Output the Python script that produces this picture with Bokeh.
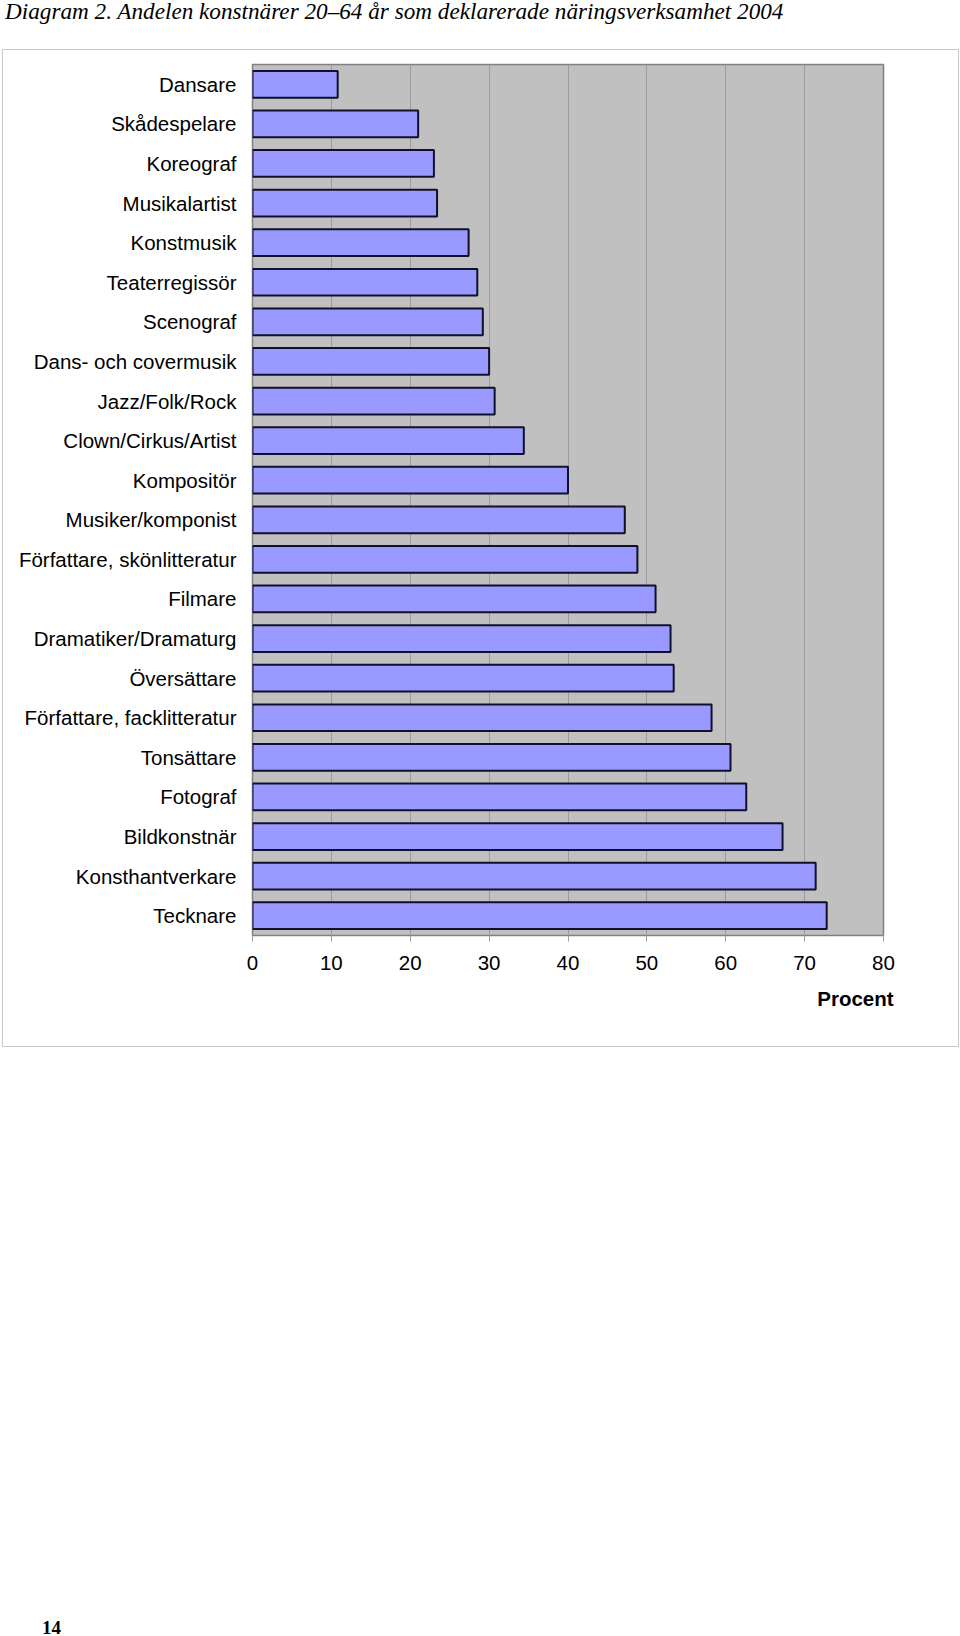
from bokeh.plotting import figure
from bokeh.models import FixedTicker, Range1d, ColumnDataSource, LinearAxis, Div
from bokeh.layouts import column
from bokeh.embed import file_html
from bokeh.resources import INLINE

categories = ["Dansare", "Skådespelare", "Koreograf", "Musikalartist", "Konstmusik",
              "Teaterregissör", "Scenograf", "Dans- och covermusik", "Jazz/Folk/Rock",
              "Clown/Cirkus/Artist", "Kompositör", "Musiker/komponist",
              "Författare, skönlitteratur", "Filmare", "Dramatiker/Dramaturg",
              "Översättare", "Författare, facklitteratur", "Tonsättare", "Fotograf",
              "Bildkonstnär", "Konsthantverkare", "Tecknare"]
values = [10.8, 21.0, 23.0, 23.4, 27.4, 28.5, 29.2, 30.0, 30.7, 34.4, 40.0, 47.2,
          48.8, 51.1, 53.0, 53.4, 58.2, 60.6, 62.6, 67.2, 71.4, 72.8]
x_ticks = [0, 10, 20, 30, 40, 50, 60, 70, 80]
title_text = "Diagram 2. Andelen konstnärer 20–64 år som deklarerade näringsverksamhet 2004"
x_label = "Procent"
page_number = "14"

# figure box on the page: x 2..957, y 49..1045
FW, FH = 955, 996
F_LEFT, F_RIGHT, F_TOP, F_BOTTOM = 249, 878, 14, 883
X0, X1 = 0, 80
n = len(categories)
Y_TOP, Y_BOT = -0.5, n - 0.5


def px_to_x(px):
    return X0 + (px - F_LEFT) * (X1 - X0) / (F_RIGHT - F_LEFT)


pos = list(range(n))
src = ColumnDataSource(dict(y=pos, right=values, cat=categories))

p = figure(width=FW, height=FH, output_backend="svg", toolbar_location=None,
           x_range=Range1d(X0, X1), y_range=Range1d(Y_BOT, Y_TOP),
           min_border_left=F_LEFT, min_border_right=FW - F_RIGHT,
           min_border_top=F_TOP, min_border_bottom=FH - F_BOTTOM,
           margin=(0, 0, 0, 2),
           styles={"border": "1px solid #c8c8c8", "box-sizing": "content-box"})
p.background_fill_color = "#C0C0C0"
p.border_fill_color = "white"
p.outline_line_color = "#808080"
p.outline_line_width = 1.5

p.hbar(y="y", right="right", left=0, height=0.675, source=src,
       fill_color="#9999FF", line_color="#10102a", line_width=2)

# grid
p.xgrid.ticker = FixedTicker(ticks=x_ticks)
p.xgrid.grid_line_color = "#9c9c9c"
p.xgrid.grid_line_width = 1
p.ygrid.grid_line_color = None

# x axis
xa = p.xaxis[0]
xa.ticker = FixedTicker(ticks=x_ticks)
xa.axis_line_color = None
xa.major_tick_line_color = "#9c9c9c"
xa.major_tick_in = 0
xa.major_tick_out = 6
xa.minor_tick_line_color = None
xa.major_label_text_font = "Liberation Sans"
xa.major_label_text_font_size = "20.5px"
xa.major_label_text_color = "black"
xa.major_label_standoff = 14

# "Procent" as a second, label-only axis below
procent_pos = px_to_x(850)
xa2 = LinearAxis(ticker=FixedTicker(ticks=[procent_pos]),
                 major_label_overrides={procent_pos: x_label})
xa2.axis_line_color = None
xa2.major_tick_line_color = None
xa2.minor_tick_line_color = None
xa2.major_label_text_font = "Liberation Sans"
xa2.major_label_text_font_style = "bold"
xa2.major_label_text_font_size = "20.5px"
xa2.major_label_text_color = "black"
xa2.major_label_standoff = 8
p.add_layout(xa2, "below")

# y axis
ya = p.yaxis[0]
ya.ticker = FixedTicker(ticks=pos)
ya.major_label_overrides = {i: c for i, c in enumerate(categories)}
ya.axis_line_color = None
ya.major_tick_line_color = None
ya.minor_tick_line_color = None
ya.major_label_text_font = "Liberation Sans"
ya.major_label_text_font_size = "20.5px"
ya.major_label_text_color = "black"
ya.major_label_standoff = 10

title_div = Div(text=title_text, width=960, height=49, margin=(0, 0, 0, 0),
                styles={"font-family": "'Liberation Serif'", "font-style": "italic",
                        "font-size": "23.2px", "line-height": "22px",
                        "padding-left": "5px", "color": "black",
                        "white-space": "nowrap"})
page_div = Div(text=page_number, width=200, height=589, margin=(0, 0, 0, 0),
               styles={"font-family": "'Liberation Serif'", "font-weight": "bold",
                       "font-size": "19px", "line-height": "22px",
                       "padding-top": "570px", "padding-left": "42px",
                       "box-sizing": "border-box", "color": "black"})

layout = column(title_div, p, page_div, spacing=0, margin=(0, 0, 0, 0))

open("out.html", "w").write(file_html(layout, INLINE))
